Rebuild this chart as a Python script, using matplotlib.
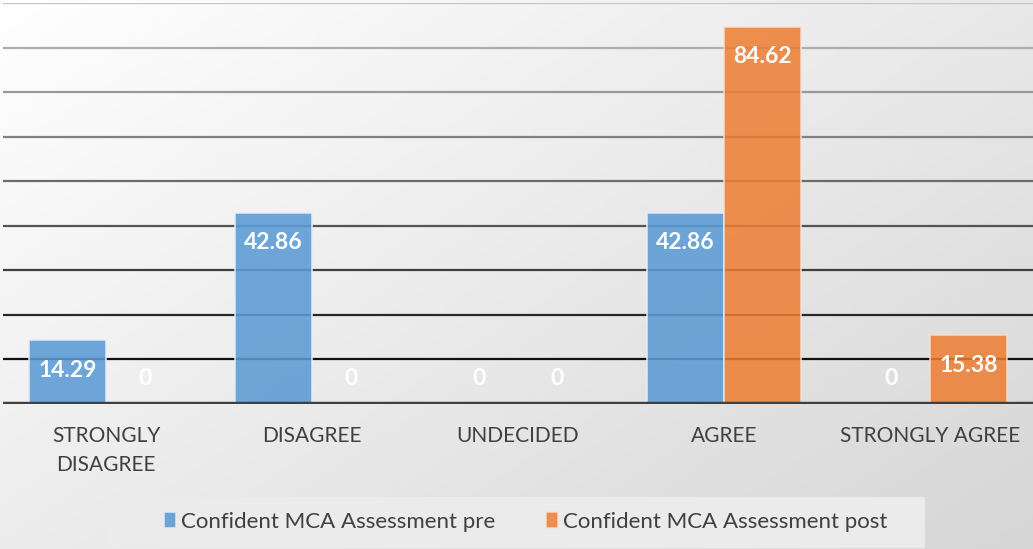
import numpy as np
import matplotlib.pyplot as plt
from matplotlib.colors import LinearSegmentedColormap
from matplotlib.patches import Rectangle

categories = ['STRONGLY\nDISAGREE', 'DISAGREE', 'UNDECIDED', 'AGREE', 'STRONGLY AGREE']
pre_values = [14.29, 42.86, 0, 42.86, 0]
post_values = [0, 0, 0, 84.62, 15.38]
series_names = ['Confident MCA Assessment pre', 'Confident MCA Assessment post']
grid_levels = [10, 20, 30, 40, 50, 60, 70, 80, 90]

plt.rcParams['font.family'] = ['Lato', 'DejaVu Sans']

fig = plt.figure(figsize=(10.33, 5.49), dpi=100)

# gradient background over the whole figure
bg = fig.add_axes([0, 0, 1, 1], zorder=-10)
gx, gy = np.meshgrid(np.linspace(0, 1, 200), np.linspace(0, 1, 200))
grad = 0.55 * gx + 0.45 * gy
bg_cmap = LinearSegmentedColormap.from_list('bg', ['#ffffff', '#d6d6d6'])
bg.imshow(grad, cmap=bg_cmap, aspect='auto', extent=[0, 1, 0, 1], origin='upper')
# legend panel
bg.add_patch(Rectangle((107 / 1033, 1 / 549), 818 / 1033, 51 / 549,
                       facecolor='#ebebeb', edgecolor='none'))
bg.set_xlim(0, 1)
bg.set_ylim(0, 1)
bg.axis('off')

ax = fig.add_axes([3 / 1033, 1 - 404 / 549, 1 - 3 / 1033, 401 / 549])
ax.patch.set_alpha(0)

x = np.arange(len(categories))
w = 0.375

# gridlines fade from light gray at top to black at bottom
grid_cmap = LinearSegmentedColormap.from_list('grid', ['#111111', '#c4c4c4'])
for i, lvl in enumerate(grid_levels):
    ax.axhline(lvl, color=grid_cmap(i / (len(grid_levels) - 1)), lw=1.6, zorder=1)

b1 = ax.bar(x - w / 2, pre_values, w, color='#5B9BD5', alpha=0.88,
            edgecolor='#e6eef8', linewidth=1.2, zorder=2, label=series_names[0])
b2 = ax.bar(x + w / 2, post_values, w, color='#ED7D31', alpha=0.85,
            edgecolor='#f8e0d0', linewidth=1.2, zorder=2, label=series_names[1])

ax.axhline(0, color='#404040', lw=3.2, zorder=3)

for bars, vals in ((b1, pre_values), (b2, post_values)):
    for rect, v in zip(bars, vals):
        txt = '0' if v == 0 else f'{v:.2f}'
        off = 18.5 if v == 0 else -21.5
        ax.annotate(txt, (rect.get_x() + rect.get_width() / 2, v),
                    xytext=(0, off), textcoords='offset points',
                    ha='center', va='center', color='white',
                    fontsize=16.5, fontweight='bold', zorder=4)

ax.set_xlim(-0.5, len(categories) - 0.5)
ax.set_ylim(0, 90)
ax.set_yticks([])
ax.set_xticks(x)
ax.set_xticklabels(categories, fontsize=15, color='#404040', linespacing=1.55)
ax.tick_params(axis='x', length=0, pad=16)
for s in ax.spines.values():
    s.set_visible(False)

leg = fig.legend(handles=[b1, b2], loc='center', bbox_to_anchor=(526 / 1033, 1 - 522 / 549),
                 ncol=2, frameon=False, fontsize=16, handlelength=0.5, handleheight=0.75,
                 handletextpad=0.25, columnspacing=2.3, borderpad=0.55, borderaxespad=0)
for t in leg.get_texts():
    t.set_color('#404040')

fig.savefig('out.png', dpi=100)
